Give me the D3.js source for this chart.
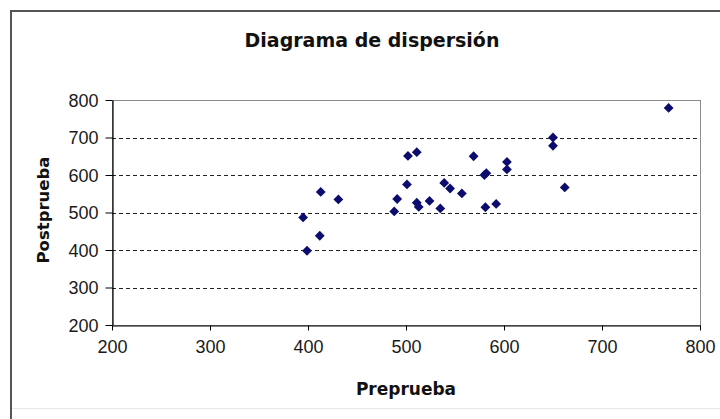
<!DOCTYPE html>
<html>
<head>
<meta charset="utf-8">
<script src="https://cdn.jsdelivr.net/npm/d3@7"></script>
<style>
  html, body { margin: 0; padding: 0; background: #fff; }
  svg { display: block; }
</style>
</head>
<body>
<svg id="chart" width="720" height="419"></svg>
<script>
// Pretest / posttest scores, one pair per student
const prePrueba  = [395, 399, 412, 413, 431, 488, 491, 501, 502, 511, 511, 513, 524, 535, 539, 545, 557, 569, 580, 582, 581, 592, 603, 603, 650, 650, 662, 768];
const postPrueba = [487, 398, 438, 555, 535, 503, 536, 575, 651, 661, 526, 515, 531, 511, 579, 564, 551, 650, 600, 605, 514, 523, 635, 615, 700, 678, 567, 779];

const xTicks = [200, 300, 400, 500, 600, 700, 800];
const yTicks = [200, 300, 400, 500, 600, 700, 800];
const gridValues = [300, 400, 500, 600, 700];

const titleText = "Diagrama de dispersión";
const xTitle = "Preprueba";
const yTitle = "Postprueba";

const svg = d3.select("#chart");
const W = 720, H = 419;
const plot = { left: 112, right: 700, top: 100, bottom: 325 };

// chart area frame
svg.append("rect")
  .attr("x", 11).attr("y", 11)
  .attr("width", W + 20).attr("height", H + 20)
  .attr("fill", "#fff")
  .attr("stroke", "#555").attr("stroke-width", 2);

svg.append("line")
  .attr("x1", 12).attr("x2", W).attr("y1", 408.5).attr("y2", 408.5)
  .attr("stroke", "#e8e8e8").attr("stroke-width", 1);

const x = d3.scaleLinear().domain([200, 800]).range([plot.left, plot.right]);
const y = d3.scaleLinear().domain([200, 800]).range([plot.bottom, plot.top]);

// plot area border
svg.append("rect")
  .attr("x", plot.left + 0.5).attr("y", plot.top + 0.5)
  .attr("width", plot.right - plot.left).attr("height", plot.bottom - plot.top)
  .attr("fill", "#fff")
  .attr("stroke", "#8a8a8a").attr("stroke-width", 1);

// dashed horizontal gridlines
svg.append("g")
  .selectAll("line")
  .data(gridValues)
  .join("line")
  .attr("x1", plot.left).attr("x2", plot.right)
  .attr("y1", d => Math.round(y(d)) + 0.5)
  .attr("y2", d => Math.round(y(d)) + 0.5)
  .attr("stroke", "#222")
  .attr("stroke-width", 1)
  .attr("stroke-dasharray", "4,3");

// y axis
const yAxis = d3.axisLeft(y).tickValues(yTicks).tickSize(7).tickPadding(7).tickSizeOuter(0);
const gy = svg.append("g")
  .attr("transform", `translate(${plot.left + 0.5},0)`)
  .call(yAxis);

// x axis
const xAxis = d3.axisBottom(x).tickValues(xTicks).tickSize(5).tickPadding(10).tickSizeOuter(0);
const gx = svg.append("g")
  .attr("transform", `translate(0,${plot.bottom + 0.5})`)
  .call(xAxis);

[gx, gy].forEach(g => {
  g.select(".domain").attr("stroke", "#000").attr("stroke-width", 1.2);
  g.selectAll(".tick line").attr("stroke", "#000");
  g.selectAll(".tick text")
    .attr("fill", "#1a1a1a")
    .style("font-family", "'Liberation Sans', Arial, sans-serif")
    .style("font-size", "18px");
});
gx.selectAll(".tick text").attr("dy", "0.71em");
gy.selectAll(".tick text").attr("dy", "0.35em");

// points as diamonds
const diamond = d3.symbol().type(d3.symbolSquare).size(48);
svg.append("g")
  .selectAll("path")
  .data(prePrueba.map((d, i) => [d, postPrueba[i]]))
  .join("path")
  .attr("d", diamond)
  .attr("transform", d => `translate(${x(d[0])},${y(d[1])}) rotate(45)`)
  .attr("fill", "#0c0c6e");

// titles
svg.append("text")
  .attr("x", 372).attr("y", 47)
  .attr("text-anchor", "middle")
  .style("font-family", "'DejaVu Sans', Verdana, sans-serif")
  .style("font-weight", "bold")
  .style("font-size", "19px")
  .attr("fill", "#111")
  .text(titleText);

svg.append("text")
  .attr("x", (plot.left + plot.right) / 2).attr("y", 395)
  .attr("text-anchor", "middle")
  .style("font-family", "'DejaVu Sans', Verdana, sans-serif")
  .style("font-weight", "bold")
  .style("font-size", "17px")
  .attr("fill", "#111")
  .text(xTitle);

svg.append("text")
  .attr("transform", "translate(49,210) rotate(-90)")
  .attr("text-anchor", "middle")
  .style("font-family", "'DejaVu Sans', Verdana, sans-serif")
  .style("font-weight", "bold")
  .style("font-size", "16.5px")
  .attr("fill", "#111")
  .text(yTitle);
</script>
</body>
</html>
